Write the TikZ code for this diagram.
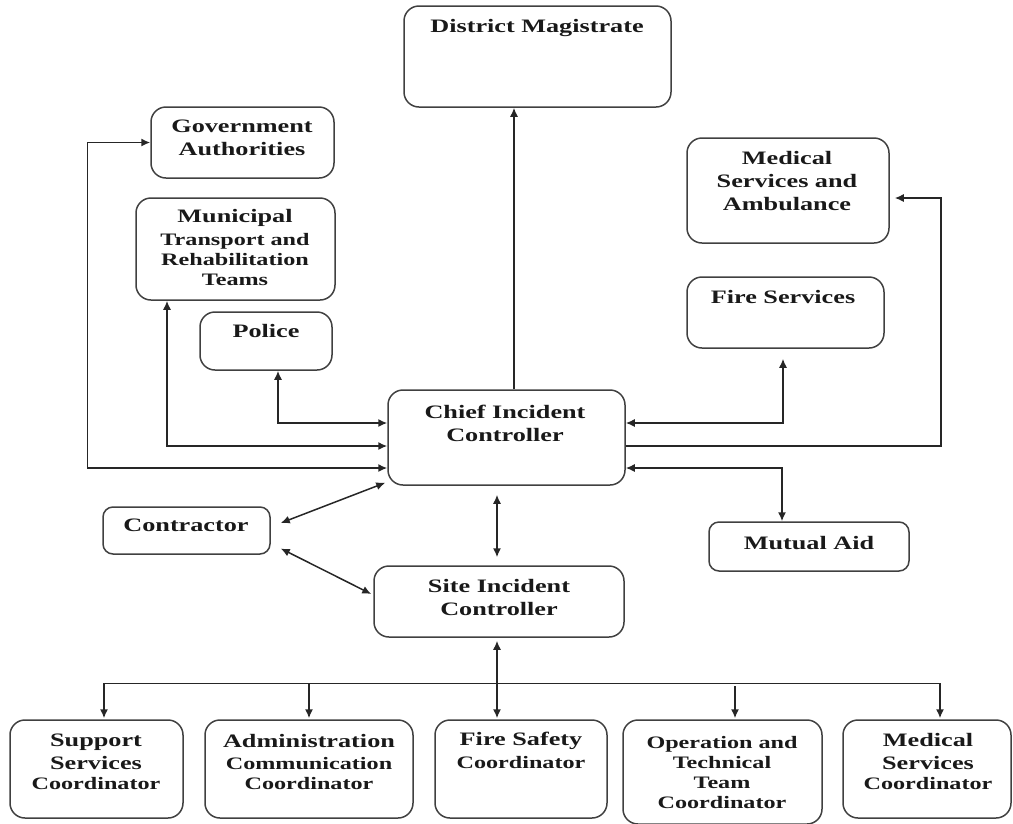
\documentclass[tikz,border=0pt]{standalone}
\usepackage{fontspec}
\setmainfont{Liberation Serif}[FakeStretch=1.38]
\usetikzlibrary{arrows.meta,calc}
\newcommand{\bigf}{\fontsize{19}{23}\selectfont}
\newcommand{\smf}{\fontsize{17.5}{20}\selectfont}
\tikzset{
  box/.style={draw=black!75, line width=1.5pt, rounded corners=15pt, inner sep=0pt},
  txt/.style={align=center, font=\bfseries\bigf, text=black!90, inner sep=0pt},
  stxt/.style={align=center, font=\bfseries\smf, text=black!90, inner sep=0pt},
  con/.style={draw=black!85, line width=1.5pt},
  tip/.style={-{Latex[length=9pt,width=8pt]}},
  tips/.style={{Latex[length=9pt,width=8pt]}-{Latex[length=9pt,width=8pt]}}
}
\begin{document}
\begin{tikzpicture}[x=1pt,y=-1pt]
\useasboundingbox (0,0) rectangle (1013,823);
% boxes
\node[box, minimum width=267pt, minimum height=101pt] (dm) at (537.5,56.5) {};
\node[box, minimum width=183pt, minimum height=71pt] (gov) at (242.5,142.5) {};
\node[box, minimum width=199pt, minimum height=102pt] (mun) at (235.5,249) {};
\node[box, minimum width=132pt, minimum height=58pt] (police) at (266,341) {};
\node[box, minimum width=202pt, minimum height=105pt] (med) at (788,190.5) {};
\node[box, minimum width=197pt, minimum height=71pt] (fire) at (785.5,312.5) {};
\node[box, minimum width=237pt, minimum height=95pt] (chief) at (506.5,437.5) {};
\node[box, minimum width=167pt, minimum height=47pt, rounded corners=10pt] (contractor) at (186.5,530.5) {};
\node[box, minimum width=200pt, minimum height=49pt, rounded corners=10pt] (mutual) at (809,546.5) {};
\node[box, minimum width=250pt, minimum height=71pt] (site) at (499,601.5) {};
\node[box, minimum width=173pt, minimum height=98pt] (support) at (96.5,769) {};
\node[box, minimum width=208pt, minimum height=98pt] (admin) at (309,769) {};
\node[box, minimum width=172pt, minimum height=98pt] (fsafe) at (521,769) {};
\node[box, minimum width=199pt, minimum height=104pt] (oper) at (722.5,772) {};
\node[box, minimum width=168pt, minimum height=98pt] (medc) at (927,769) {};
% texts
\node[txt] (tdm) at (537,28) {District Magistrate};
\node[txt] (tgov) at (242,138) {Government\\Authorities};
\node[txt] (tmun1) at (235,218) {Municipal};
\node[stxt] (tmun2) at (235,260) {Transport and\\Rehabilitation\\Teams};
\node[txt] (tpolice) at (266,331) {Police};
\node[txt] (tmed) at (787,181) {Medical\\Services and\\Ambulance};
\node[txt] (tfire) at (783,297) {Fire Services};
\node[txt] (tchief) at (505,423.5) {Chief Incident\\Controller};
\node[txt] (tcontractor) at (186,525) {Contractor};
\node[txt] (tmutual) at (809,543) {Mutual Aid};
\node[txt] (tsite) at (499,597.5) {Site Incident\\Controller};
\node[txt] (tsupport) at (96,751.5) {Support\\Services};
\node[stxt] (tsupport2) at (96,784) {Coordinator};
\node[txt] (tadmin) at (309,741) {Administration};
\node[stxt] (tadmin2) at (309,773.5) {Communication\\Coordinator};
\node[txt] (tfsafe) at (521,741) {Fire Safety};
\node[stxt] (tfsafe2) at (521,763) {Coordinator};
\node[stxt] (toper) at (722,772.5) {Operation and\\Technical\\Team\\Coordinator};
\node[txt] (tmedc) at (928,751.5) {Medical\\Services};
\node[stxt] (tmedc2) at (928,784) {Coordinator};
% connectors
\draw[con,tip] ($(chief.north)+(7.5,0)$) -- ($(dm.south)+(-23.5,0)$);
\draw[con,tips] (gov.west) -- ++(-63,0) |- ($(chief.west)+(0,30.5)$);
\draw[con,tips] ($(mun.south)+(-68.5,0)$) |- ($(chief.west)+(0,8.5)$);
\draw[con,tips] ($(police.south)+(12,0)$) |- ($(chief.west)+(0,-14.5)$);
\draw[con,tips] ($(fire.south)+(-2.5,10)$) |- ($(chief.east)+(0,-14.5)$);
\draw[con,tip] ($(chief.east)+(0,8.5)$) -- ++(315,0) |- ($(med.east)+(5,7.5)$);
\draw[con,tips] ($(chief.east)+(0,30.5)$) -| ($(mutual.north)+(-27,0)$);
\draw[con,tips] ($(contractor.east)+(10,-7.5)$) -- ($(chief.south west)+(-2,-3)$);
\draw[con,tips] ($(contractor.east)+(10,18)$) -- ($(site.west)+(-2,-7.5)$);
\draw[con,tips] ($(chief.south)+(-9.5,9)$) -- ($(site.north)+(-2,-8)$);
\draw[con,tips] ($(site.south)+(-2,3)$) -- ($(fsafe.north)+(-24,-1)$);
\coordinate (busl) at ($(support.north)+(7.5,-36)$);
\coordinate (busr) at ($(medc.north)+(13,-36)$);
\draw[con] (busl) -- (busr);
\draw[con,tip] (busl) -- ($(support.north)+(7.5,-1)$);
\draw[con,tip] ($(admin.north)+(0,-36)$) -- ($(admin.north)+(0,-1)$);
\draw[con,tip] ($(oper.north)+(12.5,-33)$) -- ($(oper.north)+(12.5,-1)$);
\draw[con,tip] (busr) -- ($(medc.north)+(13,-1)$);
\end{tikzpicture}
\end{document}
